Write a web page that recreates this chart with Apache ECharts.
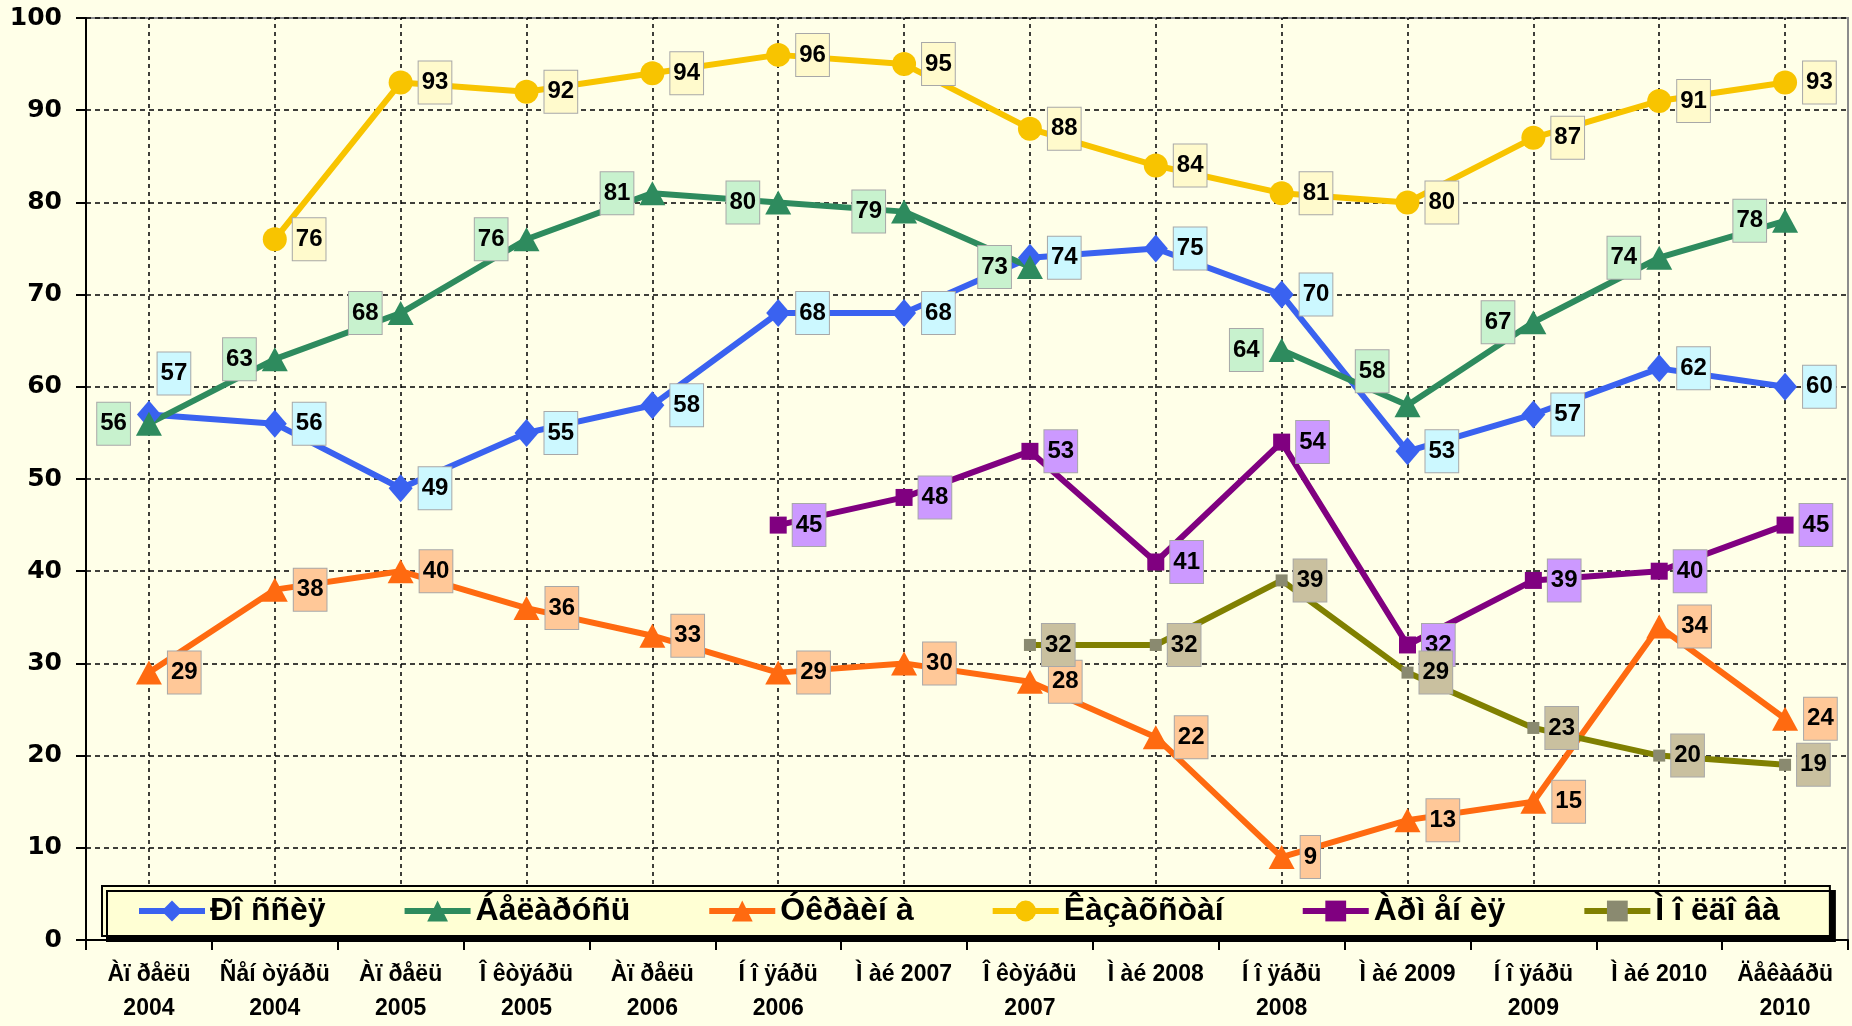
<!DOCTYPE html>
<html>
<head>
<meta charset="utf-8">
<script src="https://cdn.jsdelivr.net/npm/echarts@6/dist/echarts.min.js"></script>
<style>
  html, body { margin: 0; padding: 0; background: #FFFFE8; }
  #chart { width: 1852px; height: 1026px; }
</style>
</head>
<body>
<div id="chart"></div>
<script>
  // categories (survey dates)
  const months = [
    'Àï ðåëü\n2004', 'Ñåí òÿáðü\n2004', 'Àï ðåëü\n2005', 'Î êòÿáðü\n2005',
    'Àï ðåëü\n2006', 'Í î ÿáðü\n2006', 'Ì àé 2007', 'Î êòÿáðü\n2007',
    'Ì àé 2008', 'Í î ÿáðü\n2008', 'Ì àé 2009', 'Í î ÿáðü\n2009',
    'Ì àé 2010', 'Äåêàáðü\n2010'
  ]
  const yTicks = [0, 10, 20, 30, 40, 50, 60, 70, 80, 90, 100]

  const russia = [57, 56, 49, 55, 58, 68, 68, 74, 75, 70, 53, 57, 62, 60]
  const belarus = [56, 63, 68, 76, 81, 80, 79, 73, null, 64, 58, 67, 74, 78]
  const ukraine = [29, 38, 40, 36, 33, 29, 30, 28, 22, 9, 13, 15, 34, 24]
  const kazakhstan = [null, 76, 93, 92, 94, 96, 95, 88, 84, 81, 80, 87, 91, 93]
  const armenia = [null, null, null, null, null, 45, 48, 53, 41, 54, 32, 39, 40, 45]
  const moldova = [null, null, null, null, null, null, null, 32, 32, 39, 29, 23, 20, 19]

  const chart = echarts.init(document.getElementById('chart'))

  const font = 'Liberation Sans, Arial, sans-serif'

  function makeSeries(name, values, color, labelBg, symbol, symbolSize, labelPos, overrides, symbolColor) {
    overrides = overrides || {}
    return {
      name: name,
      type: 'line',
      data: values.map((v, i) => {
        if (v == null) return null
        const item = { value: v }
        if (overrides[i]) item.label = overrides[i]
        return item
      }),
      symbol: symbol,
      symbolSize: symbolSize,
      showAllSymbol: true,
      lineStyle: { color: color, width: 6 },
      itemStyle: { color: symbolColor || color, borderWidth: 0 },
      label: {
        show: true,
        position: labelPos,
        distance: 6,
        color: '#000',
        fontFamily: font,
        fontWeight: 'bold',
        fontSize: 24,
        lineHeight: 26,
        backgroundColor: labelBg,
        borderColor: '#A8A8A8',
        borderWidth: 1,
        padding: [8, 3, 8, 3]
      },
      emphasis: { disabled: true },
      animation: false
    }
  }

  const series = [
    makeSeries('Ðî ññèÿ', russia, '#3A62F0', '#CCF8FF', 'diamond', [24, 28], 'right',
      { 0: { position: 'top', offset: [25, 0] } }),
    makeSeries('Áåëàðóñü', belarus, '#2E8B5E', '#C8F2CE', 'triangle', [26, 24], 'left',
      { 10: { position: 'left', offset: [0, -34] } }),
    makeSeries('Óêðàèí à', ukraine, '#FF6A10', '#FFC898', 'triangle', [26, 24], 'right'),
    makeSeries('Êàçàõñòàí', kazakhstan, '#F8C400', '#FFFACC', 'circle', 24, 'right'),
    makeSeries('Àðì åí èÿ', armenia, '#800080', '#CC99FF', 'rect', 17, 'right'),
    makeSeries('Ì î ëäî âà', moldova, '#808000', '#C9C09F', 'rect', 12, 'right', null, '#8A8A70')
  ]

  // vertical dashed grid lines through the category centres
  series[0].markLine = {
    silent: true,
    z: 1,
    symbol: ['none', 'none'],
    label: { show: false },
    lineStyle: { color: '#000', type: [4, 4], width: 1.5 },
    data: months.map(m => ({ xAxis: m }))
  }

  chart.setOption({
    backgroundColor: '#FFFFE8',
    animation: false,
    grid: {
      left: 86,
      right: 4,
      top: 18,
      bottom: 78,
      show: true,
      borderColor: '#8C8C8C',
      borderWidth: 2,
      backgroundColor: 'transparent'
    },
    legend: {
      left: 102,
      top: 886,
      padding: [9, 50, 9, 34],
      itemGap: 76,
      itemWidth: 66,
      itemHeight: 26,
      backgroundColor: '#FFFFD4',
      borderColor: '#000',
      borderWidth: 2,
      shadowColor: '#000',
      shadowOffsetX: 5,
      shadowOffsetY: 5,
      shadowBlur: 0,
      lineStyle: { width: 6 },
      textStyle: {
        fontFamily: font,
        fontWeight: 'bold',
        fontSize: 32,
        color: '#000'
      },
      data: series.map(s => s.name)
    },
    xAxis: {
      type: 'category',
      data: months,
      boundaryGap: true,
      axisLine: { lineStyle: { color: '#000', width: 2 } },
      axisTick: { show: true, length: 10, lineStyle: { color: '#000', width: 2 } },
      axisLabel: {
        interval: 0,
        margin: 18,
        color: '#000',
        fontFamily: font,
        fontWeight: 'bold',
        fontSize: 23,
        lineHeight: 34
      },
      splitLine: { show: false }
    },
    yAxis: {
      type: 'value',
      min: yTicks[0],
      max: yTicks[yTicks.length - 1],
      interval: 10,
      axisLine: { show: true, lineStyle: { color: '#000', width: 2 } },
      axisTick: { show: true, length: 10, lineStyle: { color: '#000', width: 2 } },
      axisLabel: {
        margin: 24,
        color: '#000',
        fontFamily: 'DejaVu Sans, sans-serif',
        fontWeight: 'bold',
        fontSize: 25
      },
      splitLine: { lineStyle: { color: '#000', type: [5, 4], width: 1.5 } }
    },
    series: series
  })
</script>
</body>
</html>
